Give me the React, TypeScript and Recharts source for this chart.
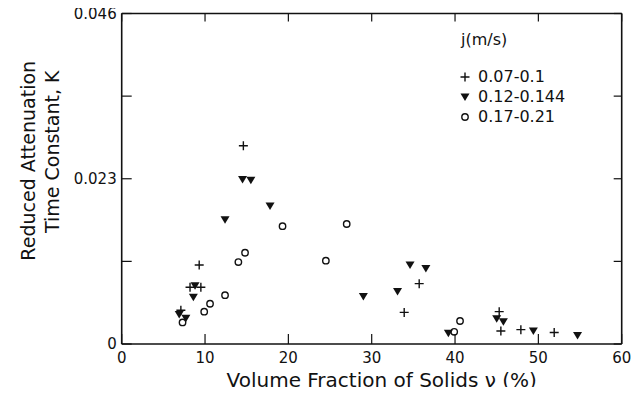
import React from "react";
import { ScatterChart, Scatter, XAxis, YAxis } from "recharts";

// volume fraction (%) vs reduced attenuation time constant K
const lowFlow = [
  { v: 14.6, k: 0.0276 },
  { v: 9.3, k: 0.011 },
  { v: 8.2, k: 0.0079 },
  { v: 9.5, k: 0.0079 },
  { v: 7.1, k: 0.0047 },
  { v: 35.7, k: 0.0084 },
  { v: 33.9, k: 0.0044 },
  { v: 45.3, k: 0.0045 },
  { v: 45.5, k: 0.0018 },
  { v: 47.9, k: 0.002 },
  { v: 51.9, k: 0.0016 },
];

const midFlow = [
  { v: 14.5, k: 0.0229 },
  { v: 15.5, k: 0.0228 },
  { v: 17.8, k: 0.0192 },
  { v: 12.4, k: 0.0173 },
  { v: 8.8, k: 0.0081 },
  { v: 8.6, k: 0.0065 },
  { v: 6.9, k: 0.0041 },
  { v: 7.7, k: 0.0036 },
  { v: 34.6, k: 0.011 },
  { v: 36.5, k: 0.0105 },
  { v: 33.1, k: 0.0073 },
  { v: 29.0, k: 0.0066 },
  { v: 39.2, k: 0.0015 },
  { v: 45.0, k: 0.0035 },
  { v: 45.8, k: 0.0031 },
  { v: 49.4, k: 0.0018 },
  { v: 54.7, k: 0.0012 },
];

const highFlow = [
  { v: 19.3, k: 0.0164 },
  { v: 27.0, k: 0.0167 },
  { v: 24.5, k: 0.0116 },
  { v: 14.8, k: 0.0127 },
  { v: 14.0, k: 0.0114 },
  { v: 12.4, k: 0.0068 },
  { v: 10.6, k: 0.0056 },
  { v: 9.9, k: 0.0045 },
  { v: 7.3, k: 0.003 },
  { v: 40.6, k: 0.0032 },
  { v: 39.9, k: 0.0017 },
];

const xTicks = [0, 10, 20, 30, 40, 50, 60];
const yTicks = [0, 0.0115, 0.023, 0.0345, 0.046];
const yTickLabels: Record<number, string> = { 0: "0", 0.023: "0.023", 0.046: "0.046" };

const legendTitle = "j(m/s)";
const seriesNames = ["0.07-0.1", "0.12-0.144", "0.17-0.21"];

// svg sits at page x=8, y=0 (wrapper cancels the body's vertical margin)
const W = 627;
const H = 395;
const PLOT = { left: 113.7, right: 613.7, top: 13.5, bottom: 344 };
const FONT = "DejaVu Sans";
const INK = "#111";

const Plus = ({ cx, cy }: any) => (
  <path d={`M${cx - 4.5},${cy}H${cx + 4.5}M${cx},${cy - 4.5}V${cy + 4.5}`} stroke={INK} strokeWidth={1.4} />
);
const TriDown = ({ cx, cy }: any) => (
  <path d={`M${cx - 4.5},${cy - 3.5}L${cx + 4.5},${cy - 3.5}L${cx},${cy + 4}Z`} fill={INK} />
);
const Ring = ({ cx, cy }: any) => (
  <circle cx={cx} cy={cy} r={3.2} fill="none" stroke={INK} strokeWidth={1.4} />
);

// bottom ticks also mirror onto the top edge; the first one draws the top frame line
const BottomTick = ({ x, payload }: any) => (
  <g>
    {payload.value === xTicks[0] && (
      <line x1={PLOT.left} x2={PLOT.right} y1={PLOT.top} y2={PLOT.top} stroke={INK} strokeWidth={1.6} />
    )}
    <line x1={x} x2={x} y1={PLOT.bottom} y2={PLOT.bottom - 10} stroke={INK} strokeWidth={1.2} />
    <line x1={x} x2={x} y1={PLOT.top} y2={PLOT.top + 8} stroke={INK} strokeWidth={1.2} />
    <text x={x} y={PLOT.bottom + 19} textAnchor="middle" fontSize={15} fontFamily={FONT} fill={INK}>
      {payload.value}
    </text>
  </g>
);

// left ticks also mirror onto the right edge; the first one draws the right frame line
const LeftTick = ({ y, payload }: any) => (
  <g>
    {payload.value === yTicks[0] && (
      <line x1={PLOT.right} x2={PLOT.right} y1={PLOT.top} y2={PLOT.bottom} stroke={INK} strokeWidth={1.6} />
    )}
    <line x1={PLOT.left} x2={PLOT.left + 10} y1={y} y2={y} stroke={INK} strokeWidth={1.2} />
    <line x1={PLOT.right} x2={PLOT.right - 8} y1={y} y2={y} stroke={INK} strokeWidth={1.2} />
    <text x={PLOT.left - 5} y={y + 5} textAnchor="end" fontSize={15} fontFamily={FONT} fill={INK}>
      {yTickLabels[payload.value] ?? ""}
    </text>
  </g>
);

const YTitle = ({ viewBox }: any) => {
  const mid = viewBox.y + viewBox.height / 2;
  const a = mid - 18;
  const b = mid - 27;
  return (
    <g fontFamily={FONT} fontSize={19} fill={INK}>
      <text x={20} y={a} textAnchor="middle" dominantBaseline="central" transform={`rotate(-90 20 ${a})`}>
        Reduced Attenuation
      </text>
      <text x={44} y={b} textAnchor="middle" dominantBaseline="central" transform={`rotate(-90 44 ${b})`}>
        Time Constant, K
      </text>
    </g>
  );
};

const icons = [Plus, TriDown, Ring];

const LegendBox = () => (
  <div
    style={{
      position: "absolute",
      top: 30,
      left: 452,
      fontFamily: FONT,
      fontSize: 16,
      color: INK,
      lineHeight: "20px",
    }}
  >
    <div style={{ marginLeft: 1, marginBottom: 17 }}>{legendTitle}</div>
    {seriesNames.map((name, i) => {
      const Icon = icons[i];
      return (
        <div key={name} style={{ display: "flex", alignItems: "center", height: 20 }}>
          <svg width={18} height={20}>
            <Icon cx={5} cy={10} />
          </svg>
          <span>{name}</span>
        </div>
      );
    })}
  </div>
);

export default function App() {
  return (
    <div style={{ position: "relative", marginTop: -8, marginBottom: -8, width: W, height: H }}>
      <ScatterChart
        width={W}
        height={H}
        margin={{ top: PLOT.top, right: W - PLOT.right, bottom: 12, left: PLOT.left - 60 }}
      >
        <XAxis
          dataKey="v"
          type="number"
          domain={[0, 60]}
          ticks={xTicks}
          height={H - PLOT.bottom - 12}
          axisLine={{ stroke: INK, strokeWidth: 1.6 }}
          tickLine={false}
          tick={<BottomTick />}
          interval={0}
          label={{
            value: "Volume Fraction of Solids \u03bd (%)",
            position: "bottom",
            offset: -10,
            dx: 10,
            fontSize: 20,
            fontFamily: FONT,
            fill: INK,
          }}
        />
        <YAxis
          dataKey="k"
          type="number"
          domain={[0, 0.046]}
          ticks={yTicks}
          width={60}
          axisLine={{ stroke: INK, strokeWidth: 1.6 }}
          tickLine={false}
          tick={<LeftTick />}
          interval={0}
          label={<YTitle />}
        />
        <Scatter name={seriesNames[0]} data={lowFlow} shape={<Plus />} isAnimationActive={false} />
        <Scatter name={seriesNames[1]} data={midFlow} shape={<TriDown />} isAnimationActive={false} />
        <Scatter name={seriesNames[2]} data={highFlow} shape={<Ring />} isAnimationActive={false} />
      </ScatterChart>
      <LegendBox />
    </div>
  );
}
